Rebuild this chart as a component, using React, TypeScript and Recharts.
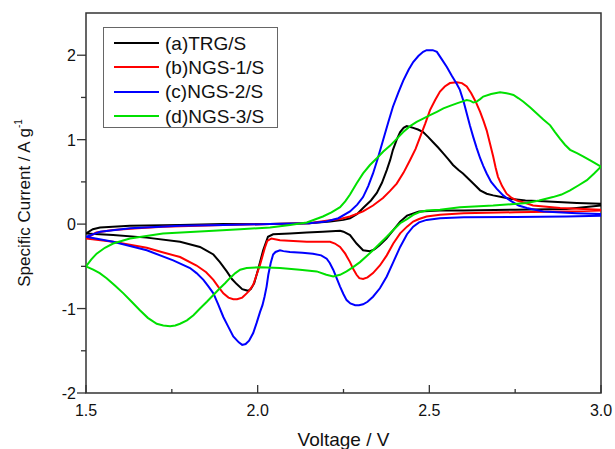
import { LineChart, Line, XAxis, YAxis, Legend, ReferenceArea } from "recharts";

// Cyclic voltammograms of the four sulfur composites. Each loop starts at
// 3.0 V, sweeps down to 1.5 V (cathodic) and back up to 3.0 V (anodic).

const FONT = '"Liberation Sans", Arial, Helvetica, sans-serif';

const xTicks = [1.5, 1.75, 2.0, 2.25, 2.5, 2.75, 3.0];
const yTicks = [-2, -1.5, -1, -0.5, 0, 0.5, 1, 1.5, 2];

const seriesNames = ["(a)TRG/S", "(b)NGS-1/S", "(c)NGS-2/S", "(d)NGS-3/S"];
const seriesColors = ["#000000", "#ff0000", "#0000ff", "#00e000"];

// (a) TRG/S
const tgrCathV = [3.0, 2.9, 2.75, 2.6, 2.53, 2.47, 2.435, 2.415, 2.395, 2.375, 2.355, 2.34, 2.327, 2.307, 2.288, 2.269, 2.25, 2.24, 2.19, 2.143, 2.094, 2.045, 2.03, 2.016, 2.001, 1.99, 1.98, 1.972, 1.955, 1.939, 1.925, 1.91, 1.89, 1.871, 1.85, 1.832, 1.774, 1.677, 1.579, 1.5];
const tgrCathI = [0.22, 0.18, 0.17, 0.16, 0.16, 0.15, 0.1, 0.03, -0.07, -0.17, -0.25, -0.3, -0.32, -0.31, -0.23, -0.13, -0.09, -0.08, -0.09, -0.1, -0.11, -0.12, -0.15, -0.31, -0.54, -0.7, -0.77, -0.79, -0.77, -0.71, -0.65, -0.56, -0.45, -0.36, -0.31, -0.27, -0.21, -0.16, -0.13, -0.11];
const tgrAnodV = [1.5, 1.52, 1.541, 1.628, 1.774, 1.9, 2.036, 2.15, 2.211, 2.25, 2.269, 2.29, 2.307, 2.33, 2.347, 2.362, 2.376, 2.386, 2.394, 2.405, 2.415, 2.425, 2.434, 2.445, 2.453, 2.467, 2.482, 2.497, 2.511, 2.525, 2.54, 2.555, 2.569, 2.585, 2.598, 2.613, 2.628, 2.648, 2.667, 2.686, 2.71, 2.735, 2.78, 2.832, 2.93, 3.0];
const tgrAnodI = [-0.11, -0.06, -0.04, -0.02, -0.01, 0.0, 0.0, 0.01, 0.03, 0.05, 0.07, 0.12, 0.19, 0.28, 0.37, 0.49, 0.64, 0.76, 0.88, 1.0, 1.09, 1.14, 1.16, 1.15, 1.14, 1.12, 1.09, 1.03, 0.97, 0.91, 0.84, 0.77, 0.7, 0.64, 0.6, 0.54, 0.48, 0.4, 0.36, 0.34, 0.32, 0.3, 0.28, 0.27, 0.25, 0.24];

// (b) NGS-1/S
const ngs1CathV = [3.0, 2.9, 2.75, 2.6, 2.531, 2.492, 2.47, 2.453, 2.435, 2.415, 2.395, 2.376, 2.356, 2.336, 2.32, 2.307, 2.296, 2.288, 2.278, 2.269, 2.255, 2.24, 2.225, 2.211, 2.143, 2.065, 2.04, 2.028, 2.021, 2.014, 2.007, 1.997, 1.987, 1.975, 1.968, 1.955, 1.94, 1.929, 1.915, 1.9, 1.885, 1.871, 1.85, 1.822, 1.774, 1.72, 1.677, 1.579, 1.5];
const ngs1CathI = [0.16, 0.15, 0.14, 0.13, 0.11, 0.09, 0.06, 0.03, -0.03, -0.11, -0.23, -0.37, -0.49, -0.58, -0.63, -0.65, -0.64, -0.6, -0.53, -0.45, -0.35, -0.27, -0.23, -0.21, -0.21, -0.19, -0.17, -0.2, -0.28, -0.38, -0.48, -0.6, -0.72, -0.79, -0.82, -0.87, -0.89, -0.89, -0.87, -0.82, -0.74, -0.66, -0.57, -0.49, -0.39, -0.33, -0.28, -0.21, -0.17];
const ngs1AnodV = [1.5, 1.53, 1.579, 1.65, 1.724, 1.9, 2.036, 2.15, 2.2, 2.24, 2.269, 2.307, 2.336, 2.365, 2.385, 2.405, 2.425, 2.444, 2.46, 2.473, 2.488, 2.502, 2.517, 2.531, 2.545, 2.56, 2.58, 2.595, 2.609, 2.622, 2.635, 2.648, 2.658, 2.667, 2.677, 2.686, 2.693, 2.7, 2.712, 2.725, 2.74, 2.755, 2.78, 2.802, 2.881, 3.0];
const ngs1AnodI = [-0.17, -0.1, -0.07, -0.05, -0.03, -0.01, 0.0, 0.01, 0.04, 0.06, 0.09, 0.15, 0.22, 0.31, 0.39, 0.48, 0.61, 0.76, 0.89, 1.03, 1.19, 1.35, 1.47, 1.57, 1.63, 1.67, 1.68, 1.67, 1.63, 1.55, 1.45, 1.33, 1.22, 1.11, 0.95, 0.8, 0.67, 0.56, 0.45, 0.36, 0.31, 0.28, 0.25, 0.22, 0.19, 0.17];

// (c) NGS-2/S
const ngs2CathV = [3.0, 2.9, 2.75, 2.6, 2.531, 2.492, 2.47, 2.453, 2.435, 2.415, 2.395, 2.376, 2.356, 2.336, 2.32, 2.307, 2.295, 2.284, 2.27, 2.259, 2.25, 2.24, 2.23, 2.22, 2.21, 2.201, 2.185, 2.161, 2.13, 2.094, 2.075, 2.065, 2.052, 2.045, 2.038, 2.031, 2.026, 2.02, 2.014, 2.007, 1.997, 1.987, 1.975, 1.965, 1.955, 1.945, 1.929, 1.915, 1.9, 1.885, 1.871, 1.857, 1.842, 1.822, 1.803, 1.754, 1.677, 1.579, 1.5];
const ngs2CathI = [0.1, 0.09, 0.085, 0.08, 0.07, 0.05, 0.02, -0.03, -0.12, -0.27, -0.45, -0.62, -0.76, -0.86, -0.92, -0.95, -0.96, -0.96, -0.94, -0.9, -0.83, -0.74, -0.64, -0.54, -0.46, -0.41, -0.37, -0.35, -0.34, -0.33, -0.32, -0.31, -0.33, -0.36, -0.46, -0.6, -0.74, -0.86, -0.96, -1.04, -1.17, -1.29, -1.38, -1.42, -1.43, -1.4, -1.33, -1.22, -1.1, -0.95, -0.82, -0.74, -0.66, -0.58, -0.52, -0.43, -0.31, -0.21, -0.15];
const ngs2AnodV = [1.5, 1.541, 1.628, 1.774, 1.9, 2.036, 2.15, 2.2, 2.235, 2.269, 2.29, 2.307, 2.322, 2.336, 2.35, 2.365, 2.38, 2.394, 2.41, 2.424, 2.44, 2.453, 2.468, 2.482, 2.492, 2.51, 2.522, 2.535, 2.551, 2.565, 2.58, 2.589, 2.6, 2.609, 2.618, 2.628, 2.638, 2.648, 2.657, 2.667, 2.68, 2.696, 2.715, 2.735, 2.76, 2.784, 2.832, 2.929, 3.0];
const ngs2AnodI = [-0.15, -0.09, -0.05, -0.02, -0.01, 0.0, 0.01, 0.03, 0.07, 0.15, 0.23, 0.32, 0.45, 0.6, 0.78, 0.99, 1.2, 1.39, 1.56, 1.7, 1.83, 1.92, 1.99, 2.04, 2.06, 2.06, 2.04, 1.96, 1.86, 1.76, 1.66, 1.59, 1.45, 1.31, 1.17, 1.03, 0.9, 0.78, 0.69, 0.6, 0.5, 0.42, 0.34, 0.28, 0.22, 0.19, 0.15, 0.13, 0.12];

// (d) NGS-3/S
const ngs3CathV = [3.0, 2.98, 2.959, 2.935, 2.91, 2.885, 2.86, 2.82, 2.784, 2.686, 2.589, 2.531, 2.492, 2.47, 2.453, 2.435, 2.415, 2.395, 2.376, 2.356, 2.336, 2.317, 2.298, 2.278, 2.259, 2.24, 2.22, 2.2, 2.172, 2.123, 2.065, 2.007, 1.968, 1.949, 1.935, 1.919, 1.905, 1.89, 1.871, 1.852, 1.832, 1.813, 1.794, 1.774, 1.76, 1.745, 1.725, 1.706, 1.68, 1.657, 1.633, 1.609, 1.585, 1.56, 1.54, 1.521, 1.5];
const ngs3CathI = [0.68, 0.6, 0.52, 0.46, 0.4, 0.35, 0.32, 0.28, 0.25, 0.22, 0.2, 0.17, 0.16, 0.14, 0.11, 0.06, 0.01, -0.07, -0.15, -0.23, -0.31, -0.38, -0.45, -0.51, -0.56, -0.6, -0.62, -0.6, -0.56, -0.54, -0.52, -0.51, -0.52, -0.54, -0.58, -0.64, -0.7, -0.76, -0.84, -0.92, -1.0, -1.08, -1.14, -1.18, -1.2, -1.21, -1.2, -1.18, -1.11, -1.02, -0.92, -0.82, -0.73, -0.64, -0.58, -0.54, -0.5];
const ngs3AnodV = [1.5, 1.515, 1.531, 1.555, 1.579, 1.628, 1.724, 1.871, 1.949, 2.036, 2.094, 2.143, 2.19, 2.215, 2.24, 2.255, 2.269, 2.288, 2.307, 2.327, 2.347, 2.366, 2.386, 2.405, 2.424, 2.444, 2.463, 2.482, 2.502, 2.522, 2.541, 2.56, 2.58, 2.595, 2.609, 2.62, 2.628, 2.638, 2.648, 2.657, 2.68, 2.706, 2.725, 2.745, 2.76, 2.774, 2.794, 2.813, 2.832, 2.852, 2.866, 2.881, 2.895, 2.91, 2.93, 2.949, 2.975, 3.0];
const ngs3AnodI = [-0.5, -0.42, -0.35, -0.28, -0.23, -0.17, -0.11, -0.08, -0.06, -0.04, -0.01, 0.02, 0.09, 0.14, 0.2, 0.27, 0.35, 0.48, 0.6, 0.7, 0.78, 0.86, 0.93, 1.01, 1.09, 1.16, 1.21, 1.25, 1.29, 1.33, 1.37, 1.4, 1.43, 1.45, 1.47, 1.46, 1.44, 1.45, 1.48, 1.51, 1.54, 1.56, 1.55, 1.53, 1.49, 1.45, 1.38, 1.31, 1.24, 1.17, 1.09, 1.01, 0.94, 0.88, 0.84, 0.8, 0.74, 0.68];

function loop(cv: number[], ci: number[], av: number[], ai: number[]) {
  const cath = cv.map((v, k) => ({ v, i: ci[k] }));
  const anod = av.map((v, k) => ({ v, i: ai[k] }));
  return [...cath, ...anod];
}

const loops = [
  loop(tgrCathV, tgrCathI, tgrAnodV, tgrAnodI),
  loop(ngs1CathV, ngs1CathI, ngs1AnodV, ngs1AnodI),
  loop(ngs2CathV, ngs2CathI, ngs2AnodV, ngs2AnodI),
  loop(ngs3CathV, ngs3CathI, ngs3AnodV, ngs3AnodI),
];

const isMultiple = (v: number, step: number) => Math.abs(v / step - Math.round(v / step)) < 1e-6;

// x ticks point into the plot, y ticks point outward (Origin style)
function XTick({ x, y, payload }: any) {
  const major = isMultiple(payload.value, 0.5);
  return (
    <g>
      <line x1={x} y1={y} x2={x} y2={y - (major ? 8 : 4)} stroke="#333" strokeWidth={1.3} />
      {major && (
        <text x={x} y={y + 23} textAnchor="middle" fontSize={16} fontFamily={FONT} fill="#111">
          {payload.value.toFixed(1)}
        </text>
      )}
    </g>
  );
}

function YTick({ x, y, payload }: any) {
  const major = isMultiple(payload.value, 1);
  return (
    <g>
      <line x1={x} y1={y} x2={x - (major ? 9 : 5)} y2={y} stroke="#333" strokeWidth={1.3} />
      {major && (
        <text x={x - 10} y={y + 6} textAnchor="end" fontSize={16} fontFamily={FONT} fill="#111">
          {String(payload.value)}
        </text>
      )}
    </g>
  );
}

function XTitle({ viewBox }: any) {
  const { x, y, width } = viewBox;
  return (
    <text x={x + width / 2} y={y + 53} textAnchor="middle" fontSize={19} fontFamily={FONT} fill="#111">
      Voltage / V
    </text>
  );
}

function YTitle({ viewBox }: any) {
  const { x, y, height } = viewBox;
  const cx = x + 30;
  const cy = y + height / 2;
  return (
    <text
      x={cx}
      y={cy}
      transform={`rotate(-90 ${cx} ${cy})`}
      textAnchor="middle"
      fontSize={17}
      fontFamily={FONT}
      fill="#111"
    >
      Specific Current / A g
      <tspan fontSize={10} dy={-8}>-1</tspan>
    </text>
  );
}

function LegendBox({ payload }: any) {
  return (
    <div
      style={{
        boxSizing: "border-box",
        width: 175,
        height: 101,
        border: "1px solid #666",
        background: "#fff",
        paddingTop: 3,
        fontFamily: FONT,
        fontSize: 19,
        color: "#111",
      }}
    >
      {(payload || []).map((p: any) => (
        <div key={p.value} style={{ display: "flex", alignItems: "center", height: 24.3 }}>
          <span style={{ display: "inline-block", width: 45, height: 2, background: p.color, marginLeft: 10, marginRight: 6 }} />
          <span style={{ lineHeight: 1 }}>{p.value}</span>
        </div>
      ))}
    </div>
  );
}

export default function App() {
  return (
    <div style={{ position: "absolute", left: 0, top: 0, background: "#fff" }}>
      <LineChart width={615} height={449} margin={{ top: 13, right: 14, left: 0, bottom: 0 }}>
        <XAxis
          type="number"
          dataKey="v"
          domain={[1.5, 3.0]}
          ticks={xTicks}
          allowDataOverflow
          interval={0}
          height={56}
          tickSize={0}
          tickMargin={0}
          tickLine={false}
          axisLine={false}
          tick={<XTick />}
          label={<XTitle />}
        />
        <YAxis
          type="number"
          dataKey="i"
          domain={[-2, 2.5]}
          ticks={yTicks}
          allowDataOverflow
          interval={0}
          width={86}
          tickSize={0}
          tickMargin={0}
          tickLine={false}
          axisLine={false}
          tick={<YTick />}
          label={<YTitle />}
        />
        <ReferenceArea x1={1.5} x2={3.0} y1={-2} y2={2.5} fill="none" stroke="#333" strokeWidth={1.5} />
        {loops.map((d, k) => (
          <Line
            key={seriesNames[k]}
            data={d}
            dataKey="i"
            name={seriesNames[k]}
            type="linear"
            stroke={seriesColors[k]}
            strokeWidth={2}
            dot={false}
            activeDot={false}
            isAnimationActive={false}
          />
        ))}
        <Legend
          layout="vertical"
          align="center"
          verticalAlign="middle"
          content={<LegendBox />}
          wrapperStyle={{ left: 103, top: 27, width: 175, height: 101 }}
        />
      </LineChart>
    </div>
  );
}
